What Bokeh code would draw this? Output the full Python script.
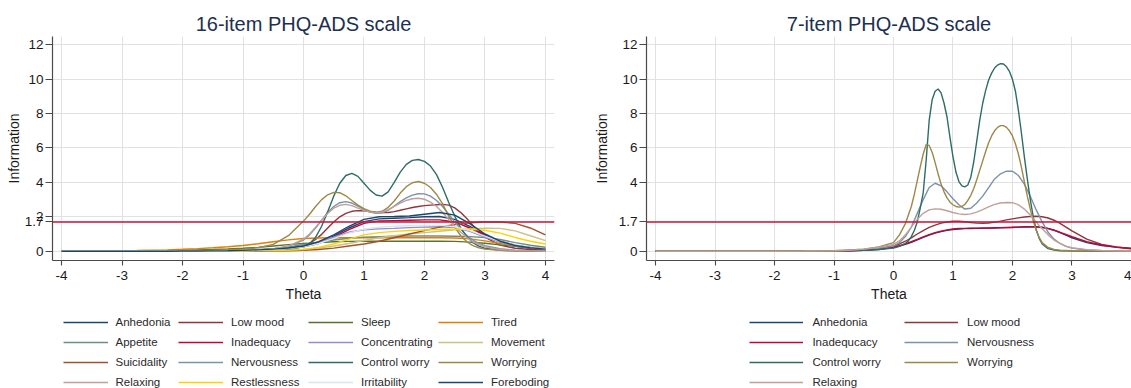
from bokeh.plotting import figure
from bokeh.models import (Span, Legend, LegendItem, FixedTicker, CustomJSTickFormatter, Range1d)
from bokeh.layouts import row, column
from bokeh.embed import file_html
from bokeh.resources import INLINE

# ---------------- data ----------------
THETA_FINE = [-4, -3.5, -3, -2.5, -2, -1.5, -1, -0.75, -0.5, -0.25,
              0.0, 0.1, 0.2, 0.3, 0.4, 0.5, 0.6, 0.7, 0.8, 0.9,
              1.0, 1.1, 1.2, 1.3, 1.4, 1.5, 1.6, 1.7, 1.8, 1.9,
              2.0, 2.1, 2.2, 2.3, 2.4, 2.5, 2.6, 2.7, 2.8, 2.9,
              3.0, 3.25, 3.5, 3.75, 4.0]

THETA_COARSE = [-4, -3.75, -3.5, -3.25, -3, -2.75, -2.5, -2.25, -2, -1.75, -1.5, -1.25,
                -1, -0.75, -0.5, -0.25, 0, 0.25, 0.5, 0.75, 1.0, 1.25, 1.5, 1.75,
                2.0, 2.25, 2.5, 2.75, 3.0, 3.25, 3.5, 3.75, 4.0]

THETA_PEAK = [-4, -3, -2, -1, -0.5, -0.25, 0, 0.1, 0.2, 0.25,
              0.3, 0.35, 0.4, 0.45, 0.5, 0.55, 0.6, 0.65, 0.7, 0.75,
              0.8, 0.85, 0.9, 0.95, 1.0, 1.05, 1.1, 1.15, 1.2, 1.25,
              1.3, 1.35, 1.4, 1.45, 1.5, 1.55, 1.6, 1.65, 1.7, 1.75,
              1.8, 1.85, 1.9, 1.95, 2.0, 2.05, 2.1, 2.15, 2.2, 2.25,
              2.3, 2.35, 2.4, 2.45, 2.5, 2.6, 2.7, 2.8, 3.0, 3.5, 4.0]

# 16-item scale
anhedonia16 = [0, 0, 0, 0, 0, 0, 0, 0, 0.01, 0.01, 0.02, 0.03, 0.05, 0.08, 0.12, 0.18,
               0.28, 0.5, 0.88, 1.35, 1.72, 1.88, 1.92, 1.95, 2.0, 2.02, 1.85, 1.45, 0.95, 0.55, 0.3, 0.17, 0.1]
lowmood16 = [0, 0, 0, 0, 0.01, 0.01, 0.02, 0.04, 0.08, 0.15,
             0.3, 0.45, 0.68, 0.98, 1.35, 1.7, 2.0, 2.2, 2.32, 2.36,
             2.35, 2.3, 2.26, 2.24, 2.25, 2.3, 2.38, 2.46, 2.54, 2.6,
             2.65, 2.68, 2.7, 2.72, 2.68, 2.52, 2.25, 1.9, 1.5, 1.12,
             0.82, 0.35, 0.17, 0.1, 0.06]
sleep16 = [0, 0, 0.01, 0.01, 0.02, 0.02, 0.03, 0.04, 0.06, 0.08, 0.1, 0.13, 0.17, 0.22, 0.3, 0.38,
           0.45, 0.5, 0.55, 0.57, 0.58, 0.58, 0.58, 0.58, 0.58, 0.58, 0.57, 0.53, 0.46, 0.37, 0.28, 0.2, 0.14]
tired16 = [0, 0.01, 0.01, 0.02, 0.03, 0.04, 0.06, 0.08, 0.11, 0.15, 0.2, 0.26, 0.33, 0.43, 0.55, 0.66,
           0.74, 0.77, 0.78, 0.78, 0.78, 0.78, 0.78, 0.78, 0.78, 0.78, 0.77, 0.72, 0.6, 0.45, 0.32, 0.23, 0.17]
appetite16 = [0, 0, 0, 0, 0.01, 0.01, 0.01, 0.02, 0.02, 0.03, 0.04, 0.05, 0.06, 0.1, 0.15, 0.25,
              0.38, 0.52, 0.65, 0.75, 0.82, 0.85, 0.87, 0.88, 0.88, 0.88, 0.87, 0.85, 0.8, 0.68, 0.5, 0.35, 0.23]
inadequacy16 = [0, 0, 0, 0, 0, 0, 0, 0, 0.01, 0.01, 0.02, 0.03, 0.05, 0.07, 0.11, 0.17,
                0.25, 0.45, 0.8, 1.25, 1.62, 1.76, 1.78, 1.8, 1.82, 1.82, 1.7, 1.35, 0.92, 0.58, 0.35, 0.2, 0.12]
concentrating16 = [0, 0, 0, 0, 0, 0, 0, 0, 0.01, 0.01, 0.01, 0.02, 0.03, 0.05, 0.08, 0.15,
                   0.3, 0.52, 0.82, 1.1, 1.25, 1.3, 1.33, 1.37, 1.4, 1.42, 1.38, 1.15, 0.82, 0.52, 0.32, 0.2, 0.12]
movement16 = [0, 0, 0, 0, 0, 0, 0, 0, 0, 0, 0, 0.01, 0.01, 0.02, 0.03, 0.06,
              0.1, 0.18, 0.3, 0.45, 0.62, 0.78, 0.9, 1.0, 1.08, 1.16, 1.24, 1.3, 1.34, 1.33, 1.18, 0.9, 0.62]
suicidality16 = [0, 0, 0, 0, 0, 0, 0, 0, 0, 0, 0, 0, 0, 0, 0.01, 0.03,
                 0.05, 0.1, 0.18, 0.3, 0.42, 0.58, 0.78, 1.0, 1.2, 1.4, 1.55, 1.65, 1.7, 1.7, 1.62, 1.35, 0.95]
nervousness16 = [0, 0, 0, 0, 0.01, 0.02, 0.04, 0.07, 0.13, 0.28,
                 0.65, 0.95, 1.35, 1.8, 2.25, 2.6, 2.82, 2.88, 2.8, 2.62,
                 2.43, 2.27, 2.2, 2.23, 2.38, 2.62, 2.88, 3.1, 3.26, 3.34,
                 3.33, 3.2, 2.95, 2.6, 2.15, 1.7, 1.28, 0.92, 0.65, 0.45,
                 0.32, 0.14, 0.06, 0.03, 0.01]
controlworry16 = [0, 0, 0, 0, 0, 0, 0.01, 0.02, 0.04, 0.1,
                  0.25, 0.45, 0.8, 1.45, 2.3, 3.2, 3.95, 4.4, 4.52, 4.35,
                  3.95, 3.55, 3.27, 3.2, 3.45, 4.0, 4.6, 5.05, 5.28, 5.33,
                  5.22, 4.95, 4.45, 3.7, 2.85, 2.05, 1.35, 0.85, 0.5, 0.3,
                  0.17, 0.06, 0.02, 0.01, 0]
worrying16 = [0, 0, 0, 0.01, 0.02, 0.05, 0.12, 0.2, 0.4, 0.9,
              1.75, 2.15, 2.6, 3.0, 3.28, 3.42, 3.4, 3.22, 2.95, 2.68,
              2.47, 2.33, 2.27, 2.32, 2.55, 2.92, 3.38, 3.75, 3.98, 4.05,
              3.95, 3.7, 3.3, 2.75, 2.05, 1.4, 0.9, 0.55, 0.32, 0.2,
              0.12, 0.05, 0.02, 0.01, 0]
relaxing16 = [0, 0, 0, 0, 0.01, 0.02, 0.04, 0.07, 0.13, 0.3,
              0.7, 1.0, 1.4, 1.8, 2.2, 2.5, 2.67, 2.72, 2.65, 2.5,
              2.37, 2.27, 2.23, 2.28, 2.42, 2.6, 2.8, 2.95, 3.05, 3.08,
              3.02, 2.85, 2.6, 2.25, 1.85, 1.45, 1.1, 0.8, 0.55, 0.38,
              0.26, 0.1, 0.04, 0.02, 0.01]
restlessness16 = [0, 0, 0, 0, 0, 0, 0, 0, 0, 0, 0, 0, 0.01, 0.02, 0.03, 0.06,
                  0.1, 0.22, 0.42, 0.7, 0.95, 1.08, 1.15, 1.2, 1.23, 1.26, 1.28, 1.28, 1.22, 1.05, 0.8, 0.58, 0.42]
irritability16 = [0, 0, 0, 0, 0, 0, 0, 0, 0.01, 0.01, 0.02, 0.03, 0.04, 0.06, 0.1, 0.16,
                  0.25, 0.45, 0.75, 1.05, 1.28, 1.4, 1.45, 1.48, 1.5, 1.5, 1.42, 1.2, 0.88, 0.58, 0.37, 0.23, 0.14]
foreboding16 = [0, 0, 0, 0, 0, 0, 0, 0, 0.01, 0.01, 0.02, 0.03, 0.05, 0.08, 0.12, 0.19,
                0.3, 0.55, 0.95, 1.45, 1.85, 2.0, 2.02, 2.05, 2.15, 2.25, 2.1, 1.6, 1.0, 0.58, 0.33, 0.2, 0.12]

# 7-item scale
anhedonia7 = [0, 0, 0, 0, 0, 0.01, 0.02, 0.03, 0.05, 0.1,
              0.22, 0.3, 0.4, 0.52, 0.66, 0.8, 0.93, 1.05, 1.14, 1.21,
              1.26, 1.29, 1.31, 1.32, 1.33, 1.33, 1.34, 1.35, 1.36, 1.37,
              1.38, 1.4, 1.42, 1.43, 1.43, 1.4, 1.33, 1.22, 1.08, 0.93,
              0.78, 0.5, 0.33, 0.24, 0.17]
lowmood7 = [0, 0, 0, 0, 0, 0.01, 0.02, 0.04, 0.07, 0.15,
            0.3, 0.42, 0.58, 0.78, 1.0, 1.2, 1.38, 1.52, 1.63, 1.7,
            1.74, 1.74, 1.71, 1.67, 1.63, 1.62, 1.64, 1.69, 1.75, 1.82,
            1.88, 1.94, 1.99, 2.02, 2.03, 2.0, 1.93, 1.8, 1.62, 1.4,
            1.18, 0.7, 0.4, 0.25, 0.15]
inadequacy7 = [0, 0, 0, 0, 0, 0.01, 0.02, 0.03, 0.06, 0.12,
               0.24, 0.32, 0.43, 0.55, 0.69, 0.83, 0.96, 1.08, 1.17, 1.24,
               1.29, 1.32, 1.33, 1.34, 1.34, 1.35, 1.35, 1.36, 1.37, 1.38,
               1.39, 1.4, 1.41, 1.41, 1.4, 1.37, 1.31, 1.22, 1.1, 0.97,
               0.84, 0.56, 0.36, 0.22, 0.14]
nervousness7 = [0, 0, 0, 0, 0, 0.01, 0.03, 0.05, 0.09, 0.17,
                0.3, 0.5, 0.85, 1.4, 2.2, 3.0, 3.7, 3.95, 3.8, 3.45,
                3.05, 2.7, 2.45, 2.5, 2.8, 3.2, 3.7, 4.2, 4.5, 4.65,
                4.65, 4.4, 3.9, 3.2, 2.4, 1.7, 1.1, 0.7, 0.45, 0.28,
                0.18, 0.07, 0.03, 0.01, 0]
controlworry7 = [0, 0, 0, 0.02, 0.06, 0.1, 0.18, 0.28, 0.45, 0.6,
                 0.85, 1.2, 1.7, 2.5, 3.4, 5.3, 7.6, 8.8, 9.3, 9.43,
                 9.2, 8.6, 7.8, 6.6, 5.5, 4.6, 4.05, 3.8, 3.74, 3.85,
                 4.3, 5.2, 6.4, 7.6, 8.6, 9.35, 9.95, 10.35, 10.65, 10.82,
                 10.9, 10.88, 10.72, 10.45, 10.0, 9.3, 8.2, 6.9, 5.5, 4.2,
                 3.0, 2.0, 1.25, 0.75, 0.42, 0.15, 0.06, 0.03, 0.01, 0, 0]
worrying7 = [0, 0, 0, 0.03, 0.12, 0.25, 0.5, 0.95, 1.6, 2.1,
             2.6, 3.3, 4.1, 4.9, 5.65, 6.2, 6.15, 5.75, 5.15, 4.5,
             3.9, 3.45, 3.1, 2.85, 2.7, 2.6, 2.56, 2.6, 2.72, 2.95,
             3.25, 3.65, 4.15, 4.7, 5.25, 5.8, 6.3, 6.7, 7.0, 7.2,
             7.3, 7.3, 7.2, 7.0, 6.7, 6.25, 5.65, 4.9, 4.05, 3.2,
             2.45, 1.75, 1.2, 0.8, 0.5, 0.22, 0.1, 0.06, 0.03, 0.01, 0]
relaxing7 = [0, 0, 0, 0, 0, 0.01, 0.03, 0.06, 0.12, 0.23,
             0.4, 0.6, 0.95, 1.4, 1.85, 2.2, 2.4, 2.46, 2.44, 2.35,
             2.25, 2.17, 2.13, 2.17, 2.27, 2.42, 2.58, 2.72, 2.8, 2.83,
             2.82, 2.7, 2.45, 2.1, 1.7, 1.3, 0.95, 0.65, 0.45, 0.3,
             0.2, 0.09, 0.04, 0.02, 0.01]

CUTOFF = 1.7

# (label, theta grid, values, colour)
SERIES16 = [
    ("Anhedonia", THETA_COARSE, anhedonia16, "#1a476f"),
    ("Low mood", THETA_FINE, lowmood16, "#90353b"),
    ("Sleep", THETA_COARSE, sleep16, "#55752f"),
    ("Tired", THETA_COARSE, tired16, "#e37e00"),
    ("Appetite", THETA_COARSE, appetite16, "#6e8e84"),
    ("Inadequacy", THETA_COARSE, inadequacy16, "#c10534"),
    ("Concentrating", THETA_COARSE, concentrating16, "#938dd2"),
    ("Movement", THETA_COARSE, movement16, "#cac27e"),
    ("Suicidality", THETA_COARSE, suicidality16, "#a0522d"),
    ("Nervousness", THETA_FINE, nervousness16, "#7b92a8"),
    ("Control worry", THETA_FINE, controlworry16, "#2d6d66"),
    ("Worrying", THETA_FINE, worrying16, "#9c8847"),
    ("Relaxing", THETA_FINE, relaxing16, "#bfa19c"),
    ("Restlessness", THETA_COARSE, restlessness16, "#ffd200"),
    ("Irritability", THETA_COARSE, irritability16, "#d9e6eb"),
    ("Foreboding", THETA_COARSE, foreboding16, "#1a476f"),
]
SERIES7 = [
    ("Anhedonia", THETA_FINE, anhedonia7, "#1a476f"),
    ("Low mood", THETA_FINE, lowmood7, "#90353b"),
    ("Inadequcacy", THETA_FINE, inadequacy7, "#c10534"),
    ("Nervousness", THETA_FINE, nervousness7, "#7b92a8"),
    ("Control worry", THETA_PEAK, controlworry7, "#2d6d66"),
    ("Worrying", THETA_PEAK, worrying7, "#9c8847"),
    ("Relaxing", THETA_FINE, relaxing7, "#bfa19c"),
]
YTICKS16 = [0, 1.7, 2, 4, 6, 8, 10, 12]
YTICKS7 = [0, 1.7, 4, 6, 8, 10, 12]
XTICKS = [-4, -3, -2, -1, 0, 1, 2, 3, 4]

LEGEND16_COLS = [["Anhedonia", "Appetite", "Suicidality", "Relaxing"],
                 ["Low mood", "Inadequacy", "Nervousness", "Restlessness"],
                 ["Sleep", "Concentrating", "Control worry", "Irritability"],
                 ["Tired", "Movement", "Worrying", "Foreboding"]]
LEGEND7_COLS = [["Anhedonia", "Inadequcacy", "Control worry", "Relaxing"],
                ["Low mood", "Nervousness", "Worrying"]]

FONT = "Liberation Sans"
AXIS_COL = "#4a4a4a"
TEXT_COL = "#1a1a1a"
MAIN_H = 304
LEG_H = 84
TOP = 36
FRAME_H = 224
LEFT_W = 590
RIGHT_W = 541


def make_panel(title, series, yticks, width, border_left, border_right, xr, ylab_standoff):
    p = figure(width=width, height=MAIN_H, output_backend="svg", toolbar_location=None,
               x_range=Range1d(*xr), y_range=Range1d(-0.54, 12.48),
               min_border_left=border_left, min_border_right=border_right,
               min_border_top=TOP, min_border_bottom=MAIN_H - TOP - FRAME_H,
               x_axis_label="Theta", y_axis_label="Information")
    p.title.text = title
    p.title.align = "center"
    p.title.text_font = FONT
    p.title.text_font_size = "20px"
    p.title.text_font_style = "normal"
    p.title.text_color = "#1c3050"
    p.title.standoff = 4
    p.outline_line_color = None
    p.background_fill_color = "white"
    p.border_fill_color = "white"

    p.xaxis.ticker = FixedTicker(ticks=XTICKS)
    p.xgrid.ticker = FixedTicker(ticks=XTICKS)
    p.yaxis.ticker = FixedTicker(ticks=yticks)
    p.ygrid.ticker = FixedTicker(ticks=yticks)
    p.xaxis.formatter = CustomJSTickFormatter(code="return tick.toFixed(0);")
    p.yaxis.formatter = CustomJSTickFormatter(
        code="return Math.abs(tick - 1.7) < 1e-6 ? '1.7' : tick.toFixed(0);")
    for ax in (p.xaxis[0], p.yaxis[0]):
        ax.axis_line_color = AXIS_COL
        ax.axis_line_width = 1.2
        ax.major_tick_line_color = AXIS_COL
        ax.major_tick_line_width = 1.1
        ax.major_tick_in = 0
        ax.minor_tick_line_color = None
        ax.major_label_text_font = FONT
        ax.major_label_text_font_size = "13.5px"
        ax.major_label_text_color = TEXT_COL
        ax.axis_label_text_font = FONT
        ax.axis_label_text_font_size = "14px"
        ax.axis_label_text_font_style = "normal"
        ax.axis_label_text_color = TEXT_COL
    p.xaxis.major_tick_out = 5
    p.xaxis.major_label_standoff = 5
    p.xaxis.axis_label_standoff = 3
    p.yaxis.major_tick_out = 7
    p.yaxis.major_label_standoff = 2
    p.yaxis.axis_label_standoff = ylab_standoff
    for g in (p.xgrid[0], p.ygrid[0]):
        g.grid_line_color = "#e1e1e1"
        g.grid_line_width = 1

    for name, th, vals, col in series:
        p.line(th, vals, line_color=col, line_width=1.4)

    p.add_layout(Span(location=CUTOFF, dimension="width", line_color="#c8143c", line_width=1.5))
    return p


def make_legend(series, legend_cols, legend_x, glyph_w, standoff, width):
    # legend-only strip: the same series are drawn here, but the y-range lies
    # far outside the data so only the legend keys are visible
    lf = figure(width=width, height=LEG_H, output_backend="svg", toolbar_location=None,
                x_range=Range1d(-4, 4), y_range=Range1d(-200, -199),
                min_border=0, min_border_left=0, min_border_right=0,
                min_border_top=0, min_border_bottom=0)
    lf.axis.visible = False
    lf.grid.visible = False
    lf.outline_line_color = None
    lf.background_fill_color = "white"
    lf.border_fill_color = "white"
    rends = {}
    for name, th, vals, col in series:
        rends[name] = lf.line(th, vals, line_color=col, line_width=1.5)
    row_h = 20
    legend_top = 8
    for vx, names in zip(legend_x, legend_cols):
        items = [LegendItem(label=n, renderers=[rends[n]]) for n in names]
        h = row_h * len(names)
        vy = LEG_H - (legend_top + h)
        lg = Legend(items=items, location=(vx, vy), orientation="vertical",
                    padding=0, spacing=0, margin=0,
                    border_line_color=None, background_fill_alpha=0,
                    glyph_width=glyph_w, glyph_height=row_h, label_height=row_h,
                    label_standoff=standoff,
                    label_text_font=FONT, label_text_font_size="11.5px",
                    label_text_color="#2a2a2a")
        lf.add_layout(lg)
    return lf


p1 = make_panel("16-item PHQ-ADS scale", SERIES16, YTICKS16,
                width=LEFT_W, border_left=52, border_right=36, xr=(-4.15, 4.15), ylab_standoff=0)
p2 = make_panel("7-item PHQ-ADS scale", SERIES7, YTICKS7,
                width=RIGHT_W, border_left=56, border_right=0, xr=(-4.153, 4.002), ylab_standoff=6)
l1 = make_legend(SERIES16, LEGEND16_COLS, [62.5, 178, 308, 438], 45, 8, LEFT_W)
l2 = make_legend(SERIES7, LEGEND7_COLS, [159.4, 314], 54, 9, RIGHT_W)

layout = column(row(p1, p2), row(l1, l2))
open("out.html", "w").write(file_html(layout, INLINE))
